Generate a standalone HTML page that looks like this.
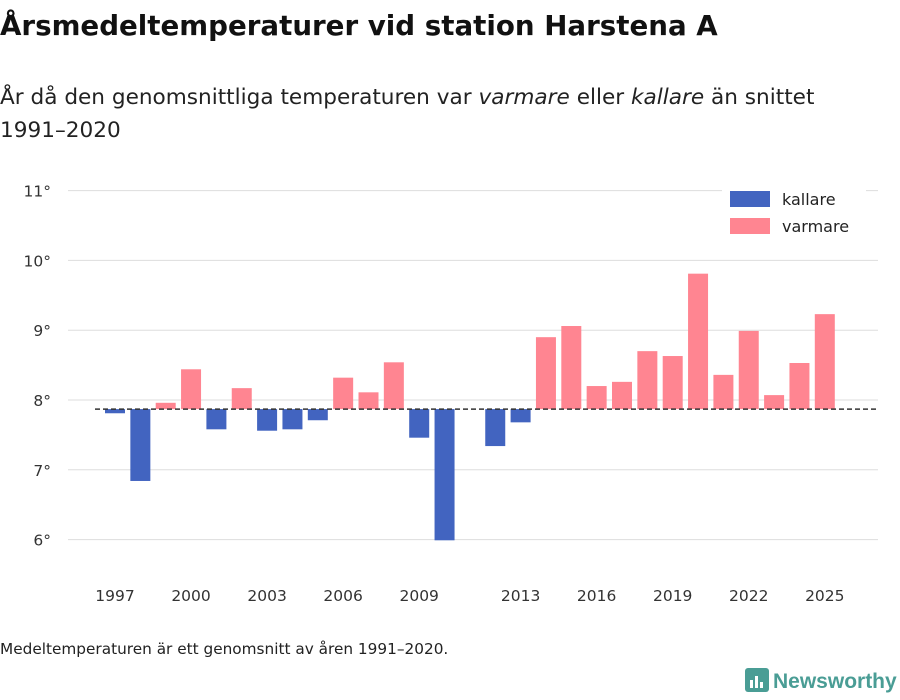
<!DOCTYPE html>
<html><head><meta charset="utf-8">
<style>
body{margin:0;background:#fff;font-family:"DejaVu Sans","Liberation Sans",sans-serif;}
#wrap{position:relative;width:900px;height:700px;overflow:hidden;}
h1{position:absolute;left:0;top:9px;margin:0;font-size:27.7px;font-weight:bold;color:#111;white-space:nowrap;}
.sub{position:absolute;left:0;top:81px;font-size:21.6px;color:#222;line-height:33px;white-space:nowrap;}
.foot{position:absolute;left:0;top:640px;font-size:15.3px;color:#222;white-space:nowrap;}
.logo{position:absolute;left:745px;top:668px;font-size:21px;color:#4a9d95;font-weight:bold;white-space:nowrap;font-family:"Liberation Sans",sans-serif;}
</style></head><body>
<div id="wrap">
<h1>Årsmedeltemperaturer vid station Harstena A</h1>
<div class="sub">År då den genomsnittliga temperaturen var <i>varmare</i> eller <i>kallare</i> än snittet<br>1991–2020</div>
<svg id="chart" width="900" height="700" style="position:absolute;left:0;top:0"></svg>
<div class="foot">Medeltemperaturen är ett genomsnitt av åren 1991–2020.</div>
<div class="logo"><svg width="24" height="24" style="vertical-align:-4px;margin-right:4px"><rect x="0" y="0" width="24" height="24" rx="3" fill="#4a9d95"/><rect x="5" y="12" width="3" height="8" fill="#fff"/><rect x="10" y="8" width="3" height="12" fill="#fff"/><rect x="15" y="14" width="3" height="6" fill="#fff"/></svg>Newsworthy</div>
</div>
<script>
const years=[1997,1998,1999,2000,2001,2002,2003,2004,2005,2006,2007,2008,2009,2010,2012,2013,2014,2015,2016,2017,2018,2019,2020,2021,2022,2023,2024,2025];
const temps=[7.81,6.84,7.96,8.44,7.58,8.17,7.56,7.58,7.71,8.32,8.11,8.54,7.46,5.99,7.34,7.68,8.90,9.06,8.20,8.26,8.70,8.63,9.81,8.36,8.99,8.07,8.53,9.23];
const baseline=7.87;
const yTicks=[6,7,8,9,10,11];
const xTicks=[1997,2000,2003,2006,2009,2013,2016,2019,2022,2025];
const NS="http://www.w3.org/2000/svg";
const svg=document.getElementById('chart');
const F='DejaVu Sans, Liberation Sans, sans-serif';
function y(v){return 400-(v-8)*69.8;}
function x(yr){return 115+(yr-1997)*25.35;}
function mk(t,a){const e=document.createElementNS(NS,t);for(const k in a)e.setAttribute(k,a[k]);svg.appendChild(e);return e;}
yTicks.forEach(t=>{
  const l=mk('line',{x1:68,x2:878,y1:y(t),y2:y(t),stroke:'#ddd','stroke-width':1});
  
  
  const tx=mk('text',{x:51,y:y(t)+6,'text-anchor':'end','font-size':15.5,fill:'#333','font-family':F});
  tx.textContent=t+'°';
  
  
});
years.forEach((yr,i)=>{
  const v=temps[i];const warm=v>=baseline;
  const top=Math.min(y(v),y(baseline)),h=Math.abs(y(v)-y(baseline));
  const r=mk('rect',{x:x(yr)-10,y:top,width:20,height:h,fill:warm?'#ff8591':'#4264c0'});
  
  
});
const bl=mk('line',{x1:95,x2:878,y1:y(baseline),y2:y(baseline),stroke:'#333','stroke-width':1.5,'stroke-dasharray':'5,3'});


xTicks.forEach(t=>{
  const tx=mk('text',{x:x(t),y:601,'text-anchor':'middle','font-size':15.5,fill:'#333','font-family':F});
  tx.textContent=t;
  
  
});
const lg=mk('rect',{x:722,y:186,width:144,height:56,fill:'#fff'});


[['kallare','#4264c0',191],['varmare','#ff8591',218]].forEach(d=>{
  const r=mk('rect',{x:730,y:d[2],width:40,height:16,fill:d[1]});
  
  
  const t=mk('text',{x:782,y:d[2]+14,'font-size':16,fill:'#222','font-family':F});
  t.textContent=d[0];
  
  
});
</script>
</body></html>
